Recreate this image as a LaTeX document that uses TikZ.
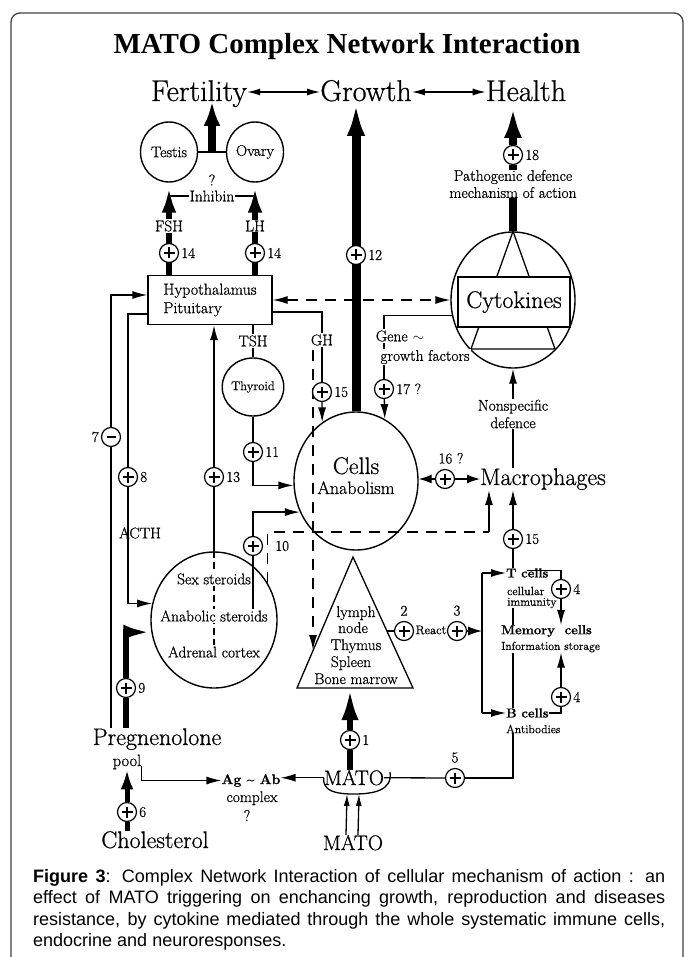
\documentclass[tikz,border=0pt]{standalone}
\usepackage{fontspec}
\setmainfont{Latin Modern Roman}[FakeBold=0.7]
\newfontfamily\capfont{Liberation Sans}
\newfontfamily\ttlfont{Liberation Serif}
\usetikzlibrary{arrows.meta,shapes.geometric,calc}
\pgfdeclarelayer{bg}
\pgfsetlayers{bg,main}
\newcommand{\fsz}[1]{\fontsize{#1}{#1}\selectfont}
\begin{document}
\begin{tikzpicture}[x=1pt,y=-1pt,
  every node/.style={inner sep=0pt},
  ln/.style={line width=1.3pt},
  tp/.style={-{Latex[length=15pt,width=8pt]}},
  dpat/.style={dash pattern=on 11pt off 8pt},
  huge/.style={font=\fsz{30}},
  big/.style={font=\fsz{24}},
  mid/.style={font=\fsz{15.5}},
  sml/.style={font=\fsz{12}},
  lab/.style={font=\fsz{15}, inner sep=2pt},
  bsm/.style={font=\bfseries\fsz{13}},
  ell/.style={ellipse, draw, line width=1.4pt},
  pl/.style={circle, draw, fill=white, line width=1.2pt, minimum size=19pt, inner sep=0pt,
    path picture={\draw[line width=1.5pt]
      ([xshift=-5.5pt]path picture bounding box.center) -- ([xshift=5.5pt]path picture bounding box.center)
      ([yshift=-5.5pt]path picture bounding box.center) -- ([yshift=5.5pt]path picture bounding box.center);}},
  mi/.style={circle, draw, fill=white, line width=1.2pt, minimum size=19pt, inner sep=0pt,
    path picture={\draw[line width=1.5pt]
      ([xshift=-4.5pt]path picture bounding box.center) -- ([xshift=4.5pt]path picture bounding box.center);}}
]
\path[use as bounding box] (0,0) rectangle (694,957);
\clip (0,0) rectangle (694,957);
\begin{pgfonlayer}{bg}
\fill[white] (0,0) rectangle (694,957);
\end{pgfonlayer}
\draw[line width=1.3pt, rounded corners=9pt, black!75] (11,13) rectangle (683,1000);

% ---------- title and top words
\node[font=\ttlfont\bfseries\fsz{29}, anchor=base] (title) at (347,54) {MATO Complex Network Interaction};
\node[huge, anchor=base] (fert) at (199,101) {Fertility};
\node[huge, anchor=base] (grow) at (366,101) {Growth};
\node[huge, anchor=base] (heal) at (526,101) {Health};

% ---------- reproductive
\node[ell, mid, minimum width=57pt, minimum height=60pt] (testis) at (169,152) {Testis};
\node[ell, mid, minimum width=57pt, minimum height=60pt] (ovary) at (255,152) {Ovary};
\coordinate (tomid) at ($(testis.east)!0.5!(ovary.west)$);
\node[mid] (q1) at (212,180) {?};
\node[mid, fill=white, inner sep=1pt] (inh) at (212,196) {Inhibin};
\node[mid, fill=white, inner sep=1pt] (fsh) at (169,226) {FSH};
\node[mid, fill=white, inner sep=1pt] (lh) at (255,226) {LH};
\node[pl, label={[lab]0:14}] (p14a) at (169,253) {};
\node[pl, label={[lab]0:14}] (p14b) at (255,253) {};

% ---------- hypothalamus
\node[draw, ln, fill=white, minimum width=124pt, minimum height=49pt, align=left,
      font=\fontsize{16}{18.5}\selectfont] (hyp) at (210,300) {Hypothalamus\\Pituitary};
\node[mid, fill=white, inner sep=1pt] (tsh) at (253,341) {TSH};
\node[ell, minimum width=52pt, minimum height=58pt, font=\fsz{12.7}] (thy) at (253,387) {Thyroid};
\node[pl, label={[lab]0:11}] (p11) at (253,452) {};
\node[mid, fill=white, inner sep=1pt] (gh) at (322,340) {GH};
\node[pl, label={[lab]0:15}] (p15a) at (322,392) {};

% ---------- growth
\node[pl, label={[lab]0:12}] (p12) at (356,255) {};
\node[ell, minimum width=124pt, minimum height=138pt] (cells) at (356,481) {};
\node[big, anchor=base] (cellsT) at (356,474) {Cells};
\node[font=\fsz{18}, anchor=base] (anab) at (356,494) {Anabolism};

% ---------- health / cytokines
\node[pl, label={[lab]0:18}] (p18) at (513,155) {};
\node[align=center, font=\fontsize{15.5}{17}\selectfont] (pdef) at (513,184) {Pathogenic defence\\mechanism of action};
\node[ell, minimum width=124pt, minimum height=136pt] (cyto) at (513,300) {};
\node[draw, ln, fill=white, minimum width=112pt, minimum height=50pt, big] (cytok) at (514,302) {Cytokines};
\node[mid, fill=white, inner sep=1pt] (gene) at (400,336) {Gene\,\,$\sim$};
\node[mid, fill=white, inner sep=1pt] (gf) at (425,357) {growth factors};
\node[pl, label={[lab]0:17 ?}] (p17) at (384,389) {};
\node[align=center, fill=white, inner sep=1pt, font=\fontsize{15.5}{17.5}\selectfont] (nons) at (513,414) {Nonspecific\\defence};
\node[big, anchor=base] (mac) at (543,485) {Macrophages};
\node[pl, label={[lab, label distance=3pt, xshift=6pt]90:16 ?}] (p16) at (445,479) {};

% ---------- left side
\node[mi, label={[lab]180:7}] (p7) at (111,437) {};
\node[pl, label={[lab]0:8}] (p8) at (128,477) {};
\node[mid] (acth) at (140,533) {ACTH};
\node[pl, label={[lab]0:13}] (p13) at (214,477) {};
\node[pl, label={[lab, label distance=10pt]0:10}] (p10) at (253,546) {};
\node[ell, minimum width=126pt, minimum height=136pt] (ana) at (214,620) {};
\node[mid, fill=white, inner sep=1pt] (sexs) at (214,579) {Sex steroids};
\node[mid, fill=white, inner sep=1pt] (anas) at (214,616) {Anabolic steroids};
\node[mid, fill=white, inner sep=1pt] (adr) at (214,652) {Adrenal cortex};
\node[pl, label={[lab]0:9}] (p9) at (126,688) {};
\node[big, anchor=base] (preg) at (157,745) {Pregnenolone};
\node[font=\fsz{16.5}, anchor=base] (pool) at (127,766) {pool};
\node[pl, label={[lab]0:6}] (p6) at (127,812) {};
\node[big, anchor=base] (chol) at (155,848) {Cholesterol};

% ---------- bottom centre
\node[font=\bfseries\fsz{14}, anchor=base] (agab) at (251,784) {Ag \textasciitilde{} Ab};
\node[mid, anchor=base] (cplx) at (252,802) {complex};
\node[mid, anchor=base] (q2) at (247,821) {?};
\node[font=\fsz{21}, anchor=base] (mato) at (354,785) {MATO};
\node[font=\fsz{21}, anchor=base] (mato2) at (353,850) {MATO};
\node[pl, label={[lab]0:1}] (p1) at (350,740) {};
\node[pl, label={[lab, label distance=3pt]90:5}] (p5) at (455,778) {};

% ---------- lymphoid triangle
\coordinate (triA) at (353,557);
\coordinate (triL) at (297,688);
\coordinate (triR) at (413,688);
\coordinate (triE) at (387,631);
\node[mid, anchor=base] (ly1) at (356,617) {lymph};
\node[mid, anchor=base] (ly2) at (353,633) {node};
\node[mid, anchor=base] (ly3) at (356,650) {Thymus};
\node[mid, anchor=base] (ly4) at (351,667) {Spleen};
\node[mid, anchor=base] (ly5) at (356,684) {Bone marrow};
\node[pl, label={[lab, label distance=3pt]90:2}] (p2) at (404,631) {};
\node[font=\fsz{12.5}] (react) at (431,630) {React};
\node[pl, label={[lab, label distance=3pt]90:3}] (p3) at (457,631) {};

% ---------- immune cells
\coordinate (brT) at (482,573);
\coordinate (brB) at (482,713);
\node[bsm, anchor=west] (tc) at (506,573) {T cells};
\node[sml, anchor=west] (cel) at (507,591) {cellular};
\node[sml, anchor=west] (imm) at (507,603) {immunity};
\node[bsm, anchor=west] (mem) at (501,631) {Memory\ \ cells};
\node[font=\fsz{11.7}, anchor=west] (info) at (501,647) {Information storage};
\node[bsm, anchor=west] (bc) at (506,713) {B cells};
\node[font=\fsz{11.7}, anchor=west] (anti) at (506,729) {Antibodies};
\node[pl, label={[lab]0:4}] (p4a) at (561,589) {};
\node[pl, label={[lab]0:4}] (p4b) at (561,697) {};
\node[pl, label={[lab]0:15}] (p15b) at (513,539) {};

\coordinate (dcr) at (489,532);
\coordinate (dvt) at (313,350);
\coordinate (dvb) at (313,650);
\coordinate (arcB) at (354,794);

% ---------- caption
\node[anchor=north west, text width=632pt, align=justify,
      font=\capfont\fontsize{18}{21.5}\selectfont] (cap) at (33,869)
 {\textbf{Figure 3}: Complex Network Interaction of cellular mechanism of action : an\linebreak
  effect of MATO triggering on enchancing growth, reproduction and diseases\linebreak
  resistance, by cytokine mediated through the whole systematic immune cells,\linebreak
  endocrine and neuroresponses.};

\begin{pgfonlayer}{bg}
% top arrows
\draw[ln, {Latex[length=13pt,width=7pt]}-{Latex[length=13pt,width=7pt]}] ([yshift=9pt]fert.base east) -- ([yshift=9pt]grow.base west);
\draw[ln, {Latex[length=13pt,width=7pt]}-{Latex[length=13pt,width=7pt]}] ([yshift=9pt]grow.base east) -- ([yshift=9pt]heal.base west);
% reproductive
\draw[ln] (testis.east) -- (ovary.west);
\draw[line width=8pt, -{Latex[length=25pt,width=17pt]}] (tomid) -- (tomid |- fert.base);
\draw[ln] (testis.south |- inh) -- (inh.west);
\draw[ln] (inh.east) -- (ovary.south |- inh);
\draw[line width=6pt, -{Latex[length=30pt,width=14pt]}] (hyp.north -| p14a) -- (testis.south);
\draw[line width=6pt, -{Latex[length=30pt,width=14pt]}] (hyp.north -| p14b) -- (ovary.south);
% dashed hyp <-> cytokines
\draw[ln, dpat, {Latex[length=15pt,width=8pt]}-{Latex[length=15pt,width=8pt]}] (hyp.east) -- (cyto.west);
% growth
\draw[line width=9pt, -{Latex[length=35pt,width=18pt]}] (cells.north) -- (cells.north |- grow.base);
% thyroid
\draw[ln] (hyp.south -| thy) -- (thy.north);
\draw[ln] (thy.south) -- (p11);
\draw[ln, tp] (p11) |- (cells.184);
% GH
\draw[ln] ([yshift=-12pt]hyp.east) -| (p15a);
\draw[ln, tp] (p15a) -- (cells.120.5);
\draw[ln, dpat, tp] (dvt) -- (dvb);
% cytokines
\draw[ln] (cyto.north) -- (471,349) -- (555,349) -- cycle;
\draw[line width=8pt] (cyto.north) -- (pdef.south -| cyto.north);
\draw[line width=8pt] (p18) -- (p18 |- pdef.north);
\draw[line width=8pt, -{Latex[length=37pt,width=17pt]}] (p18) -- (p18 |- heal.base);
\draw[ln] (cyto.194) -| (p17);
\draw[ln, tp] (p17) -- (cells.65.6);
\draw[ln, tp] (cyto.south |- mac.north) -- (cyto.south);
% macrophages
\draw[ln, -{Latex[length=13pt,width=9pt]}] (p16) -- (p16 -| cells.east);
\draw[ln, -{Latex[length=13pt,width=9pt]}] (p16) -- (p16 -| mac.west);
\draw[ln, dpat] (ana.35) |- (dcr);
\draw[ln, tp] (dcr) -- (dcr |- mac.south);
\draw[ln, tp] (p15b) -- (p15b |- mac.south);
% left side
\draw[ln, tp] (p7) |- ([yshift=5pt]hyp.west);
\draw[ln] (p7) -- (p7 |- preg.north);
\draw[ln] ([yshift=-14pt]hyp.west) -| (p8);
\draw[ln, tp] (p8) |- (ana.165);
\draw[ln] (ana.north) -- (p13);
\draw[ln, tp] (p13) -- (hyp.south -| p13);
\draw[ln, dash pattern=on 7pt off 4pt] (ana.north) -- (adr.north -| ana.north);
\draw[ln, tp] (p10) |- (cells.209);
\draw[ln] (p10) -- (p10 |- anas);
\draw[line width=6pt] (preg.north -| p9) -- (p9);
\draw[line width=6pt, -{Latex[length=28pt,width=15pt]}] (p9) |- (ana.191);
\draw[line width=5pt] (chol.north -| p6) -- (p6);
\draw[line width=5pt, -{Latex[length=20pt,width=13pt]}] (p6) -- (pool.south -| p6);
\draw[ln, tp] (pool.base east) |- (agab.west);
% MATO
\draw[ln, tp] (mato.west) -- (mato.west -| agab.east);
\draw[ln] (mato.west) .. controls (322,792) and (338,794) .. (arcB) .. controls (372,794) and (393,791) .. (390,772);
\draw[ln, -{Latex[length=12pt,width=6pt]}] ([xshift=-7pt]mato2.north) -- ([xshift=-7pt]arcB);
\draw[ln, -{Latex[length=12pt,width=6pt]}] ([xshift=5pt]mato2.north) -- ([xshift=5pt]arcB);
\draw[line width=6pt] (mato.north -| p1) -- (p1);
\draw[line width=6pt, -{Latex[length=32pt,width=17pt]}] (p1) -- (p1 |- triL);
\draw[ln] (mato.east) -- (p5);
\draw[ln] (p5) -| (anti.south -| p15b);
% triangle
\draw[ln, line join=miter] (triA) -- (triR) -- (triL) -- cycle;
\draw[ln] (triE) -- (p2);
\draw[ln, -{Latex[length=14pt,width=9pt]}] (p3) -- (p3 -| brT);
\draw[ln] (brT) -- (brB);
\draw[ln, tp] (brT) -- (tc.west);
\draw[ln, tp] (brB) -- (bc.west);
% immune cells
\draw[ln] (tc.north -| p15b) -- (p15b);
\draw[ln] (imm.south -| p15b) -- (mem.north -| p15b);
\draw[ln] (info.south -| p15b) -- (bc.north -| p15b);
\draw[ln] ([yshift=-2pt]tc.north) -| (p4a);
\draw[ln, tp] (p4a) -- (mem.north -| p4a);
\draw[ln, tp] (p4b) -- (info.south -| p4b);
\draw[ln] (p4b) |- (bc.east);
\end{pgfonlayer}
\end{tikzpicture}
\end{document}
